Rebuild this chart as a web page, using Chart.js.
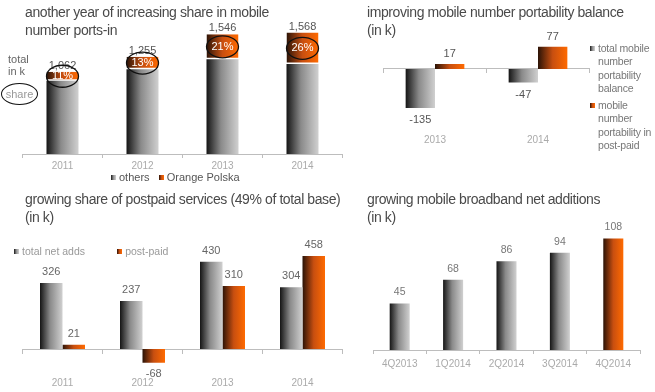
<!DOCTYPE html>
<html><head><meta charset="utf-8">
<script src="https://cdn.jsdelivr.net/npm/chart.js@4"></script>
<style>
html,body{margin:0;padding:0;background:#fff;}
#wrap{position:relative;width:655px;height:392px;overflow:hidden;font-family:"Liberation Sans",Arial,sans-serif;background:#fff;}
canvas{position:absolute;}
.t{position:absolute;color:#4a4a4a;font-size:14px;letter-spacing:-0.4px;line-height:18px;white-space:nowrap;}
.s{position:absolute;font-size:11px;line-height:13.3px;white-space:nowrap;}
.sq{display:inline-block;width:5px;height:5px;margin-right:3px;vertical-align:1px;}
.g{background:linear-gradient(90deg,#151515,#8a8a8a 45%,#d0d0d0);}
.o{background:linear-gradient(90deg,#2b1307,#c84f10 50%,#ff6a00);}
</style></head><body><div id="wrap">
<canvas id="c1" width="350" height="174" style="left:0;top:0"></canvas>
<canvas id="c2" width="270" height="149" style="left:330px;top:0"></canvas>
<canvas id="c3" width="350" height="162" style="left:0;top:230px"></canvas>
<canvas id="c4" width="320" height="154" style="left:330px;top:220px"></canvas>

<div class="t" style="left:25px;top:3px">another year of increasing share in mobile<br>number ports-in</div>
<div class="t" style="left:367px;top:3px">improving mobile number portability balance<br>(in k)</div>
<div class="t" style="left:25px;top:190px">growing share of postpaid services (49% of total base)<br>(in k)</div>
<div class="t" style="left:367px;top:190px">growing mobile broadband net additions<br>(in k)</div>

<div class="s" style="left:8px;top:53px;color:#666;line-height:12px">total<br>in k</div>
<div class="s" style="left:1px;top:83px;width:35px;height:20px;border:1.3px solid #111;border-radius:50%;color:#999;text-align:center;line-height:20px">share</div>

<div class="s" style="left:111px;top:171px;color:#555"><span class="sq g"></span>others&nbsp;&nbsp;&nbsp;<span class="sq o"></span>Orange Polska</div>
<div class="s" style="left:590px;top:42px;color:#777;font-size:10.5px;letter-spacing:-0.2px"><span class="sq g"></span>total mobile<br><span style="padding-left:8px">number</span><br><span style="padding-left:8px">portability</span><br><span style="padding-left:8px">balance</span></div>
<div class="s" style="left:590px;top:99px;color:#777;font-size:10.5px;letter-spacing:-0.2px"><span class="sq o"></span>mobile<br><span style="padding-left:8px">number</span><br><span style="padding-left:8px">portability in</span><br><span style="padding-left:8px">post-paid</span></div>
<div class="s" style="left:14px;top:245px;color:#999;font-size:10.5px"><span class="sq g"></span>total net adds&nbsp;&nbsp;&nbsp;&nbsp;&nbsp;&nbsp;&nbsp;&nbsp;&nbsp;&nbsp;&nbsp;<span class="sq o"></span>post-paid</div>
</div>
<script>
// ---- data ----
const portsYears = ['2011', '2012', '2013', '2014'];
const portsOthers = [945, 1092, 1221, 1160];
const portsOrange = [117, 163, 325, 408];
const portsTotalLabels = ['1,062', '1,255', '1,546', '1,568'];
const portsShareLabels = ['11%', '13%', '21%', '26%'];

const balanceYears = ['2013', '2014'];
const balanceTotal = [-135, -47];
const balancePostpaid = [17, 77];

const postpaidYears = ['2011', '2012', '2013', '2014'];
const netAddsTotal = [326, 237, 430, 304];
const netAddsPostpaid = [21, -68, 310, 458];

const mbbQuarters = ['4Q2013', '1Q2014', '2Q2014', '3Q2014', '4Q2014'];
const mbbNetAdds = [45, 68, 86, 94, 108];

// ---- styling helpers ----
const FONT = '"Liberation Sans", Arial, sans-serif';
const GRAY = [[0, '#151515'], [0.45, '#8a8a8a'], [1, '#d0d0d0']];
const ORANGE = [[0, '#2b1307'], [0.5, '#c84f10'], [1, '#ff6a00']];
function barGradient(stops, fallback) {
  return (c) => {
    const el = c.element;
    if (!el || !isFinite(el.x) || !isFinite(el.width)) return fallback;
    const g = c.chart.ctx.createLinearGradient(el.x - el.width / 2, 0, el.x + el.width / 2, 0);
    stops.forEach(s => g.addColorStop(s[0], s[1]));
    return g;
  };
}
function labelPlugin(sets) {
  return {
    id: 'valueLabels',
    afterDatasetsDraw(chart) {
      const ctx = chart.ctx;
      ctx.save();
      sets.forEach(set => {
        const meta = chart.getDatasetMeta(set.dataset);
        const vals = chart.data.datasets[set.dataset].data;
        meta.data.forEach((el, i) => {
          const txt = set.text ? set.text[i] : String(vals[i]);
          let y;
          if (set.mode === 'center') y = (el.y + el.base) / 2;
          else y = vals[i] < 0 ? el.y + set.offset : el.y - set.offset;
          ctx.font = set.font;
          ctx.fillStyle = set.color;
          ctx.textAlign = 'center';
          ctx.textBaseline = 'middle';
          ctx.fillText(txt, el.x, y);
          if (set.ellipse) {
            ctx.beginPath();
            ctx.ellipse(el.x, y, set.ellipse[0], set.ellipse[1], 0, 0, Math.PI * 2);
            ctx.strokeStyle = '#111';
            ctx.lineWidth = 1.3;
            ctx.stroke();
          }
        });
      });
      ctx.restore();
    }
  };
}
const common = {
  responsive: false, animation: false, events: [],
  plugins: { legend: { display: false }, tooltip: { enabled: false } }
};
const axisGrid = { display: true, offset: true, drawOnChartArea: false, tickLength: 4, color: '#bdbdbd', tickColor: '#bdbdbd' };
const tickFont = { size: 10, family: FONT };

const charts = [];

// 1. ports-in
charts.push(new Chart(document.getElementById('c1'), {
  type: 'bar',
  data: { labels: portsYears, datasets: [
    { label: 'others', data: portsOthers, backgroundColor: barGradient(GRAY, '#888'), stack: 's',
      categoryPercentage: 0.4, barPercentage: 1 },
    { label: 'Orange Polska', data: portsOrange, backgroundColor: barGradient(ORANGE, '#d9560f'), stack: 's',
      borderColor: '#fff', borderWidth: { top: 0, left: 0, right: 0, bottom: 1.5 }, borderSkipped: false,
      categoryPercentage: 0.4, barPercentage: 1 }
  ]},
  options: Object.assign({}, common, {
    layout: { padding: { left: 22.5, right: 7.5, top: 30, bottom: 0 } },
    scales: {
      x: { stacked: true, grid: axisGrid, border: { display: true, color: '#bdbdbd' },
           ticks: { color: '#aaa', font: tickFont, padding: 2 } },
      y: { stacked: true, display: false, min: 0, max: 1600 }
    }
  }),
  plugins: [labelPlugin([
    { dataset: 1, text: portsTotalLabels, offset: 6, font: '11px ' + FONT, color: '#555' },
    { dataset: 1, text: portsShareLabels, mode: 'center', font: '11px ' + FONT, color: '#fff', ellipse: [16, 11] }
  ])]
}));

// 2. portability balance
charts.push(new Chart(document.getElementById('c2'), {
  type: 'bar',
  data: { labels: balanceYears, datasets: [
    { label: 'total mobile number portability balance', data: balanceTotal, backgroundColor: barGradient(GRAY, '#888'),
      categoryPercentage: 0.57, barPercentage: 1 },
    { label: 'mobile number portability in post-paid', data: balancePostpaid, backgroundColor: barGradient(ORANGE, '#d9560f'),
      categoryPercentage: 0.57, barPercentage: 1 }
  ]},
  options: Object.assign({}, common, {
    layout: { padding: { left: 53.5, right: 10.5, top: 40, bottom: 0 } },
    scales: {
      x: { position: { y: 0 }, grid: axisGrid, border: { display: true, color: '#bdbdbd' }, ticks: { display: false } },
      x2: { type: 'category', position: 'bottom', offset: true, grid: { display: false, drawTicks: false },
            border: { display: false }, ticks: { color: '#aaa', font: tickFont, padding: 3 } },
      y: { display: false, min: -214, max: 100 }
    }
  }),
  plugins: [labelPlugin([
    { dataset: 0, offset: 12, font: '11px ' + FONT, color: '#555' },
    { dataset: 1, offset: 10, font: '11px ' + FONT, color: '#555' }
  ])]
}));

// 3. postpaid
charts.push(new Chart(document.getElementById('c3'), {
  type: 'bar',
  data: { labels: postpaidYears, datasets: [
    { label: 'total net adds', data: netAddsTotal, backgroundColor: barGradient(GRAY, '#888'),
      categoryPercentage: 0.5625, barPercentage: 1 },
    { label: 'post-paid', data: netAddsPostpaid, backgroundColor: barGradient(ORANGE, '#d9560f'),
      categoryPercentage: 0.5625, barPercentage: 1 }
  ]},
  options: Object.assign({}, common, {
    layout: { padding: { left: 22.5, right: 7.5, top: 20, bottom: 0 } },
    scales: {
      x: { position: { y: 0 }, grid: axisGrid, border: { display: true, color: '#bdbdbd' }, ticks: { display: false } },
      x2: { type: 'category', position: 'bottom', offset: true, grid: { display: false, drawTicks: false },
            border: { display: false }, ticks: { color: '#aaa', font: tickFont, padding: 3 } },
      y: { display: false, min: -123, max: 488 }
    }
  }),
  plugins: [labelPlugin([
    { dataset: 0, offset: 11, font: '11px ' + FONT, color: '#666' },
    { dataset: 1, offset: 11, font: '11px ' + FONT, color: '#666' }
  ])]
}));

// 4. mobile broadband
charts.push(new Chart(document.getElementById('c4'), {
  type: 'bar',
  data: { labels: mbbQuarters, datasets: [
    { label: 'mobile broadband net additions', data: mbbNetAdds,
      backgroundColor: (c) => (c.dataIndex === mbbQuarters.length - 1 ? barGradient(ORANGE, '#d9560f') : barGradient(GRAY, '#888'))(c),
      categoryPercentage: 0.375, barPercentage: 1 }
  ]},
  options: Object.assign({}, common, {
    layout: { padding: { left: 43, right: 10, top: 6, bottom: 0 } },
    scales: {
      x: { grid: axisGrid, border: { display: true, color: '#bdbdbd' },
           ticks: { color: '#aaa', font: tickFont, padding: 4 } },
      y: { display: false, min: 0, max: 120 }
    }
  }),
  plugins: [labelPlugin([
    { dataset: 0, offset: 11, font: '10.5px ' + FONT, color: '#777' }
  ])]
}));

// second pass so bar gradients can use laid-out bar geometry
charts.forEach(ch => ch.update('none'));
</script>
</body></html>
